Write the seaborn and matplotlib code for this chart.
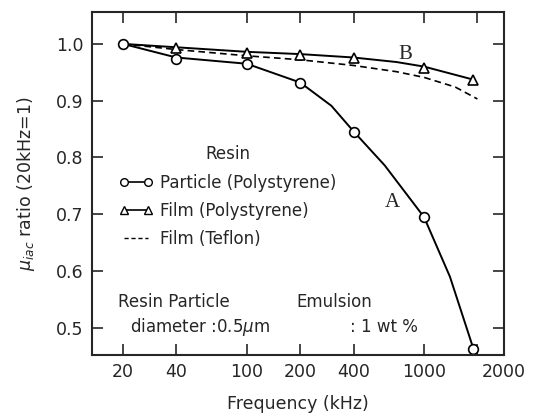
import matplotlib
matplotlib.use("Agg")
import matplotlib.pyplot as plt
import matplotlib.transforms as mtransforms
import seaborn as sns
from matplotlib.lines import Line2D

# measured points (kHz, ratio)
freq_a = [20, 40, 100, 200, 400, 1000, 1900]
ratio_a = [1.000, 0.974, 0.965, 0.931, 0.845, 0.695, 0.463]

freq_b = [40, 100, 200, 400, 1000, 1900]
ratio_b = [0.993, 0.984, 0.981, 0.975, 0.958, 0.937]

# curves as drawn in the figure
curve_a_x = [20, 40, 100, 200, 300, 400, 600, 1000, 1400, 1900]
curve_a_y = [1.000, 0.976, 0.965, 0.932, 0.891, 0.846, 0.786, 0.695, 0.590, 0.463]
curve_b_x = [20, 40, 100, 200, 400, 700, 1000, 1900]
curve_b_y = [1.000, 0.994, 0.986, 0.982, 0.976, 0.968, 0.960, 0.937]
curve_t_x = [20, 40, 100, 200, 400, 700, 1000, 1500, 2000]
curve_t_y = [1.000, 0.990, 0.979, 0.972, 0.962, 0.951, 0.941, 0.924, 0.903]

xticks = [20, 40, 100, 200, 400, 1000, 2000]
xticklabels = ["20", "40", "100", "200", "400", "1000", "2000"]
yticks = [0.5, 0.6, 0.7, 0.8, 0.9, 1.0]

sns.set_style("ticks")
plt.rcParams['font.family'] = ['DejaVu Sans']

fig = plt.figure(figsize=(5.45, 4.16), dpi=100)
ax = fig.add_axes([0.169, 0.147, 0.756, 0.824])

sns.lineplot(x=curve_a_x, y=curve_a_y, ax=ax, color="black", lw=1.4, sort=False)
sns.lineplot(x=curve_b_x, y=curve_b_y, ax=ax, color="black", lw=1.4, sort=False)
ax.plot(curve_t_x, curve_t_y, color="black", lw=1.2, ls=(0, (4, 2.5)))

ax.plot(freq_a, ratio_a, ls="none", marker="o", ms=7, mfc="white", mec="black", mew=1.2)
ax.plot(freq_b, ratio_b, ls="none", marker="^", ms=7.5, mfc="white", mec="black", mew=1.2)

ax.set_xscale("log")
ax.set_xlim(13.4, 2830)
ax.set_ylim(0.4525, 1.056)
ax.set_xticks(xticks)
ax.set_xticklabels(xticklabels)
ax.xaxis.set_minor_locator(matplotlib.ticker.NullLocator())
ax.set_yticks(yticks)
ax.set_yticklabels([f"{v:.1f}" for v in yticks])
ax.tick_params(direction="in", length=8, width=1.2, top=True, right=True,
               labelsize=12.5, pad=6)
for s in ax.spines.values():
    s.set_linewidth(1.5)

# the "2000" label sits at the right frame in the original
last = ax.get_xticklabels()[-1]
last.set_transform(last.get_transform() +
                   mtransforms.ScaledTranslation(0.26, 0, fig.dpi_scale_trans))

ax.set_xlabel("Frequency (kHz)", fontsize=12.5, labelpad=10)
ax.set_ylabel(r"$\mu_{iac}$ ratio (20kHz=1)", fontsize=12.5, labelpad=14)

ax.text(780, 0.982, "B", family="Liberation Serif", fontsize=15, ha="center", va="center")
ax.text(660, 0.72, "A", family="Liberation Serif", fontsize=15, ha="center", va="center")

handles = [
    Line2D([], [], color="black", lw=1.2, marker="o", ms=5.5, mfc="white", mec="black"),
    Line2D([], [], color="black", lw=1.2, marker="^", ms=6, mfc="white", mec="black"),
    Line2D([], [], color="black", lw=1.0, ls=(0, (3, 2))),
]
labels = ["Particle (Polystyrene)", "Film (Polystyrene)", "Film (Teflon)"]
leg = ax.legend(handles, labels, title="Resin", numpoints=2, frameon=False,
                loc="upper left", bbox_to_anchor=(0.03, 0.655), fontsize=12,
                title_fontsize=12, handlelength=2.0, handletextpad=0.45,
                labelspacing=0.62)

trans = mtransforms.blended_transform_factory(ax.transAxes, ax.transData)
ax.text(0.063, 0.545, "Resin Particle", transform=trans, fontsize=12, va="center")
ax.text(0.092, 0.502, r"diameter :0.5$\mu$m", transform=trans, fontsize=12, va="center")
ax.text(0.495, 0.545, "Emulsion", transform=trans, fontsize=12, va="center")
ax.text(0.625, 0.502, ": 1 wt %", transform=trans, fontsize=12, va="center")

fig.savefig("out.png", dpi=100)
